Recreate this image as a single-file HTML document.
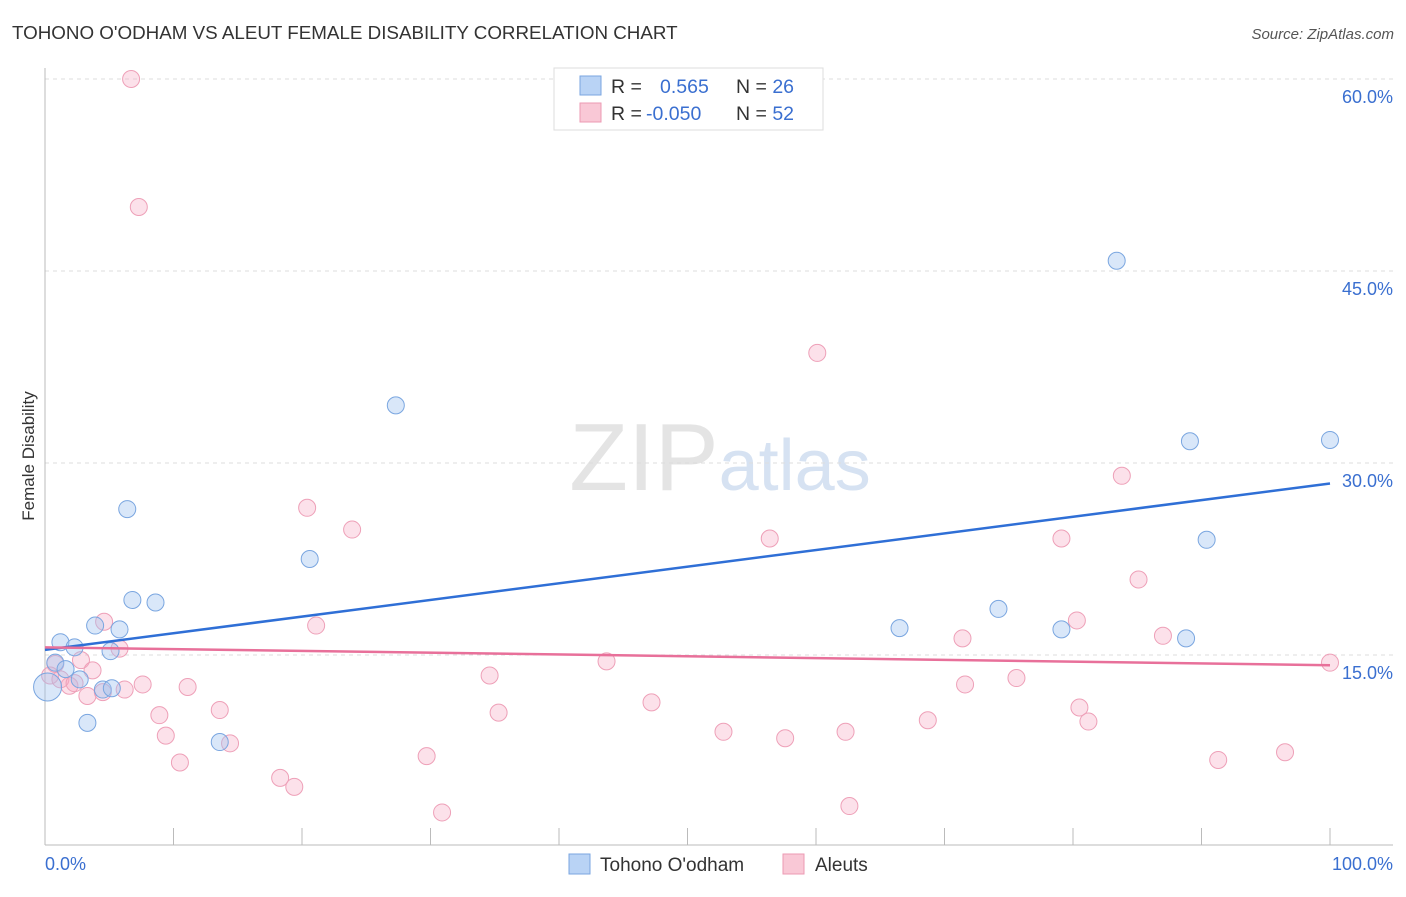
<!DOCTYPE html>
<html><head><meta charset="utf-8"><style>
body{margin:0;background:#fff;font-family:"Liberation Sans",sans-serif}
svg text{font-family:"Liberation Sans",sans-serif}
</style></head><body>
<svg id="c" width="1406" height="892">
<text x="12" y="39" font-size="18.8" fill="#333">TOHONO O'ODHAM VS ALEUT FEMALE DISABILITY CORRELATION CHART</text>
<text x="1394" y="39" font-size="15" fill="#555" text-anchor="end" font-style="italic">Source: ZipAtlas.com</text>
<text x="34" y="456" font-size="17" fill="#333" text-anchor="middle" transform="rotate(-90 34 456)">Female Disability</text>
<text x="720" y="490" font-size="96" fill="#e4e4e4" text-anchor="middle" font-family="Liberation Serif">ZIP<tspan fill="#d6e2f2" font-family="Liberation Sans" font-size="72">atlas</tspan></text>
<g id="grid"></g><g id="pts"></g><g id="lines"></g>
<g>
<rect x="554" y="68" width="269" height="62" fill="#fff" stroke="#ddd"/>
<rect x="580" y="76" width="21" height="19" fill="#b9d3f5" stroke="#7aa6e0"/>
<rect x="580" y="103" width="21" height="19" fill="#f9c8d6" stroke="#ec9ab3"/>
<text x="611" y="93" font-size="19.5" fill="#333">R = <tspan x="660" fill="#3a6fd0">0.565</tspan><tspan x="736" fill="#333">N = </tspan><tspan fill="#3a6fd0">26</tspan></text>
<text x="611" y="120" font-size="19.5" fill="#333">R = <tspan x="646" fill="#3a6fd0">-0.050</tspan><tspan x="736" fill="#333">N = </tspan><tspan fill="#3a6fd0">52</tspan></text>
</g>
<g>
<rect x="569" y="854" width="21" height="20" fill="#b9d3f5" stroke="#7aa6e0"/>
<text x="600" y="871" font-size="19" fill="#333">Tohono O'odham</text>
<rect x="783" y="854" width="21" height="20" fill="#f9c8d6" stroke="#ec9ab3"/>
<text x="815" y="871" font-size="19" fill="#333">Aleuts</text>
</g>
<text x="45" y="870" font-size="18" fill="#3a6fd0">0.0%</text>
<text x="1393" y="870" font-size="18" fill="#3a6fd0" text-anchor="end">100.0%</text>
</svg>
<script>
const blueX=[83.4,27.3,89.1,100,6.4,20.6,90.4,6.8,8.6,74.2,3.9,5.8,66.5,79.1,88.8,1.2,2.3,5.1,0.8,1.6,2.7,4.5,5.2,3.3,13.6,0.2];
const blueY=[45.8,34.5,31.7,31.8,26.4,22.5,24.0,19.3,19.1,18.6,17.3,17.0,17.1,17.0,16.3,16.0,15.6,15.3,14.4,13.9,13.1,12.3,12.4,9.7,8.2,12.5];
const pinkX=[6.7,7.3,60.1,83.8,20.4,23.9,56.4,79.1,85.1,21.1,80.3,4.6,5.8,71.4,87.0,43.7,100,2.8,3.7,34.6,75.6,71.6,7.6,11.1,6.2,1.9,4.5,3.3,47.2,80.5,13.6,35.3,8.9,81.2,68.7,9.4,52.8,57.6,62.3,14.4,29.7,10.5,91.3,96.5,18.3,19.4,62.6,30.9,0.8,0.4,1.2,2.3];
const pinkY=[60.0,50.0,38.6,29.0,26.5,24.8,24.1,24.1,20.9,17.3,17.7,17.6,15.5,16.3,16.5,14.5,14.4,14.6,13.8,13.4,13.2,12.7,12.7,12.5,12.3,12.6,12.1,11.8,11.3,10.9,10.7,10.5,10.3,9.8,9.9,8.7,9.0,8.5,9.0,8.1,7.1,6.6,6.8,7.4,5.4,4.7,3.2,2.7,14.3,13.4,13.1,12.8];
const yTicks=[15,30,45,60];
const yTickLabels=["15.0%","30.0%","45.0%","60.0%"];
const blueTrend=[15.4,28.4];
const pinkTrend=[15.6,14.2];
const NS="http://www.w3.org/2000/svg";
const sx=v=>45+v*12.85, sy=v=>847-v*12.8;
function mk(t,a,p){const e=document.createElementNS(NS,t);for(const k in a)e.setAttribute(k,a[k]);p.appendChild(e);return e;}
const g=document.getElementById('grid');
yTicks.forEach((t,i)=>{
 const l=mk('line',{x1:45,x2:1393,y1:sy(t),y2:sy(t),stroke:'#ddd','stroke-dasharray':'4,4'},g);
 
 
 const tx=mk('text',{x:1393,y:sy(t)+24,'font-size':18,fill:'#3a6fd0','text-anchor':'end'},g);
 tx.textContent=yTickLabels[i];
 
 
});
mk('line',{x1:45,x2:1393,y1:845,y2:845,stroke:'#bbb'},g);
mk('line',{x1:45,x2:45,y1:68,y2:845,stroke:'#bbb'},g);
for(let i=0;i<=10;i++){const t=mk('line',{x1:sx(i*10),x2:sx(i*10),y1:828,y2:845,stroke:'#bbb'},g);
 
 }
const P=document.getElementById('pts');
pinkX.forEach((x,i)=>{const c=mk('circle',{cx:sx(x),cy:sy(pinkY[i]),r:8.5,fill:'rgba(246,170,195,0.35)',stroke:'#eea0b8','stroke-width':1},P);
 
 });
blueX.forEach((x,i)=>{const c=mk('circle',{cx:sx(x),cy:sy(blueY[i]),r:i==25?14:8.5,fill:'rgba(160,195,240,0.4)',stroke:'#7aa6e0','stroke-width':1},P);
 
 });
const L=document.getElementById('lines');
const b=mk('line',{x1:sx(0),x2:sx(100),y1:sy(blueTrend[0]),y2:sy(blueTrend[1]),stroke:'#2f6fd6','stroke-width':2.5},L);


const p=mk('line',{x1:sx(0),x2:sx(100),y1:sy(pinkTrend[0]),y2:sy(pinkTrend[1]),stroke:'#e8709a','stroke-width':2.5},L);


</script>
</body></html>
